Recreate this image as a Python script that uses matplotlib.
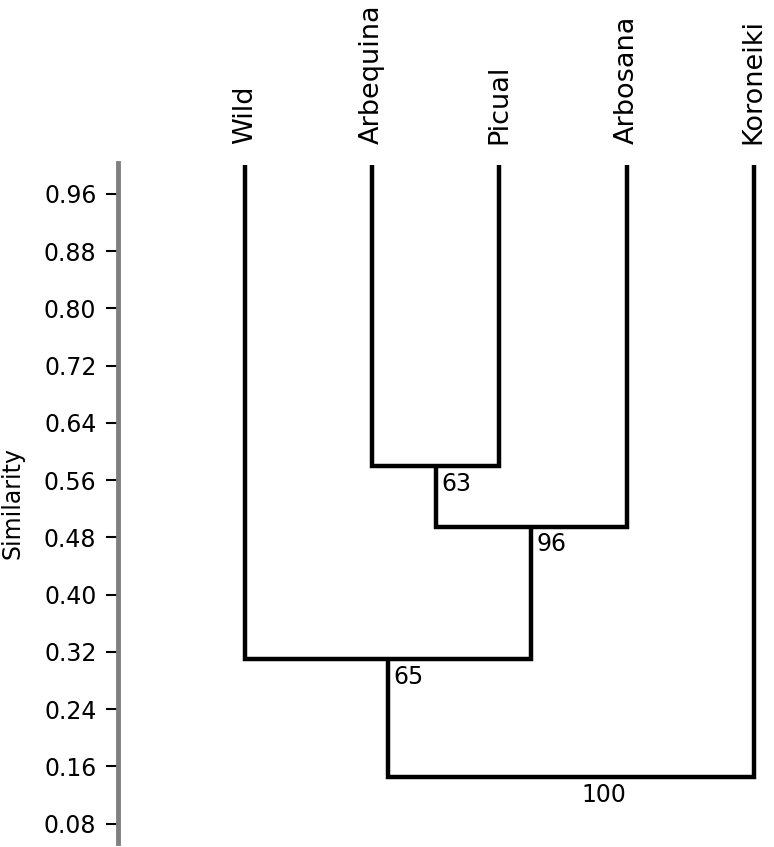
import matplotlib
matplotlib.use("Agg")
import matplotlib.pyplot as plt

# leaves, left to right
leaves = ["Wild", "Arbequina", "Picual", "Arbosana", "Koroneiki"]
# merges: (left child, right child, similarity, bootstrap); clusters >= 5 are earlier merges
merge_left = [1, 5, 0, 7]
merge_right = [2, 3, 6, 4]
merge_sim = [0.58, 0.495, 0.31, 0.145]
merge_boot = [63, 96, 65, 100]

yticks = [0.08, 0.16, 0.24, 0.32, 0.40, 0.48, 0.56, 0.64, 0.72, 0.80, 0.88, 0.96]

fig = plt.figure(figsize=(7.74, 8.47), dpi=100)
ax = fig.add_axes([118 / 774, 4 / 847, 656 / 774, 680 / 847])

xpos = {i: i + 1 for i in range(len(leaves))}
ypos = {i: 1.0 for i in range(len(leaves))}
n = len(leaves)
lw = 3.2
for k, (a, b, s, bt) in enumerate(zip(merge_left, merge_right, merge_sim, merge_boot)):
    xa, xb = xpos[a], xpos[b]
    ax.plot([xa, xa, xb, xb], [ypos[a], s, s, ypos[b]], color="black", lw=lw,
            solid_joinstyle="miter", solid_capstyle="butt")
    xm = (xa + xb) / 2
    xpos[n + k] = xm
    ypos[n + k] = s
    if k == len(merge_sim) - 1:
        ax.text(xa + 1.7, s - 0.008, str(bt), ha="center", va="top", fontsize=17)
    else:
        ax.text(xm + 0.04, s - 0.008, str(bt), ha="left", va="top", fontsize=17)

for i, name in enumerate(leaves):
    ax.annotate(name, xy=(xpos[i], 1.0), xycoords=("data", "axes fraction"),
                xytext=(0, 14), textcoords="offset points", rotation=90,
                ha="center", va="bottom", fontsize=19.5)

ax.set_xlim(0.0, 5.16)
ax.set_ylim(0.053, 1.003)
ax.set_yticks(yticks)
ax.set_yticklabels([f"{t:.2f}" for t in yticks])
ax.tick_params(axis="y", length=9, width=1.5, pad=6.5, labelsize=17, color="black")
ax.set_xticks([])
for side in ["top", "right", "bottom"]:
    ax.spines[side].set_visible(False)
ax.spines["left"].set_color("#808080")
ax.spines["left"].set_linewidth(3.5)
ax.set_ylabel("Similarity", fontsize=17)
ax.yaxis.set_label_coords(-0.143, 0.5)

fig.savefig("out.png", dpi=100)
